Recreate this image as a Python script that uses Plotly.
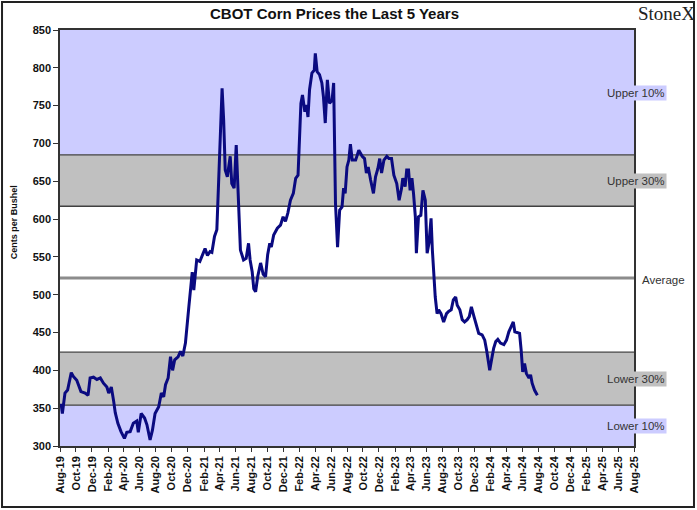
import plotly.graph_objects as go

# ---- data ----
dates = [
 "2019-08-05","2019-08-10","2019-08-20","2019-08-30","2019-09-13","2019-09-21","2019-10-04","2019-10-20",
 "2019-11-05","2019-11-16","2019-11-24","2019-12-07","2019-12-20","2020-01-02","2020-01-14","2020-01-27",
 "2020-02-03","2020-02-13","2020-02-22","2020-02-28","2020-03-09","2020-03-21","2020-04-03","2020-04-12",
 "2020-04-25","2020-05-07","2020-05-20","2020-05-26","2020-06-06","2020-06-19","2020-06-28","2020-07-10",
 "2020-07-19","2020-07-29","2020-08-12","2020-08-22","2020-08-31","2020-09-07","2020-09-17","2020-09-26",
 "2020-10-04","2020-10-12","2020-10-25","2020-11-03","2020-11-12","2020-11-22","2020-12-05","2020-12-18",
 "2020-12-24","2021-01-04","2021-01-16","2021-01-25","2021-02-05","2021-02-14","2021-02-24","2021-03-03",
 "2021-03-13","2021-03-22","2021-04-01","2021-04-11","2021-04-17","2021-04-23","2021-05-01","2021-05-12",
 "2021-05-18","2021-05-27","2021-06-04","2021-06-13","2021-06-20","2021-07-02","2021-07-12","2021-07-21",
 "2021-07-27","2021-08-04","2021-08-10","2021-08-17","2021-08-25","2021-09-05","2021-09-15","2021-09-24",
 "2021-10-02","2021-10-10","2021-10-16","2021-10-25","2021-11-08","2021-11-20","2021-11-30","2021-12-09",
 "2021-12-18","2021-12-28","2022-01-08","2022-01-17","2022-01-26","2022-02-06","2022-02-12","2022-02-21",
 "2022-02-27","2022-03-05","2022-03-11","2022-03-20","2022-03-29","2022-04-02","2022-04-09","2022-04-18",
 "2022-04-27","2022-05-03","2022-05-10","2022-05-18","2022-05-26","2022-06-05","2022-06-11","2022-06-18",
 "2022-06-26","2022-07-04","2022-07-13","2022-07-19","2022-07-25","2022-08-01","2022-08-08","2022-08-14",
 "2022-08-21","2022-09-03","2022-09-15","2022-09-28","2022-10-07","2022-10-14","2022-10-21","2022-10-30",
 "2022-11-10","2022-11-18","2022-11-27","2022-12-04","2022-12-11","2022-12-20","2022-12-31","2023-01-08",
 "2023-01-18","2023-01-27","2023-02-07","2023-02-16","2023-02-25","2023-03-02","2023-03-11","2023-03-17",
 "2023-03-24","2023-03-30","2023-04-06","2023-04-12","2023-04-19","2023-04-23","2023-05-01","2023-05-10",
 "2023-05-18","2023-05-27","2023-06-03","2023-06-10","2023-06-18","2023-06-23","2023-06-28","2023-07-04",
 "2023-07-11","2023-07-17","2023-07-26","2023-08-05","2023-08-16","2023-08-24","2023-09-03","2023-09-11",
 "2023-09-20","2023-09-26","2023-10-06","2023-10-15","2023-10-24","2023-11-03","2023-11-11","2023-11-19",
 "2023-11-29","2023-12-09","2023-12-17","2023-12-30","2024-01-09","2024-01-16","2024-01-21","2024-01-28",
 "2024-02-04","2024-02-12","2024-02-20","2024-02-28","2024-03-09","2024-03-22","2024-04-01","2024-04-10",
 "2024-04-19","2024-04-27","2024-05-03","2024-05-12","2024-05-21","2024-05-27","2024-06-02","2024-06-09",
 "2024-06-16","2024-06-26","2024-07-02","2024-07-08","2024-07-17","2024-07-28",
]
prices = [
 356,343,370,374,397,392,387,372,
 370,367,390,391,388,390,383,378,
 370,378,359,344,330,319,310,318,
 319,330,333,318,343,337,328,308,
 321,343,352,370,365,381,390,418,
 400,414,418,425,419,436,484,530,
 506,546,544,552,561,552,557,556,
 577,586,691,773,731,665,656,683,
 647,641,698,612,559,546,548,568,
 546,530,508,504,524,542,527,524,
 553,568,563,579,588,592,603,597,
 608,625,634,654,658,753,764,742,
 751,735,771,793,797,819,795,791,
 780,762,727,784,753,757,780,621,
 563,612,616,641,634,669,678,699,
 678,678,691,683,680,661,669,652,
 634,656,667,680,661,678,683,680,
 680,658,647,625,640,654,643,665,
 665,638,654,634,603,555,603,605,
 638,625,555,568,601,559,524,497,
 475,480,475,464,475,478,480,493,
 497,486,480,467,464,467,471,484,
 471,460,449,447,440,427,414,400,
 414,429,438,441,436,434,440,451,
 458,464,451,450,449,427,398,409,
 396,390,394,383,374,367,
]

band_edges = [300, 354, 424, 617, 685, 850]
average_level = 522
band_labels = ["Lower 10%", "Lower 30%", "Upper 30%", "Upper 10%"]
band_label_levels = [327, 389, 651, 767]
y_ticks = [300, 350, 400, 450, 500, 550, 600, 650, 700, 750, 800, 850]

BLUE = "#CCCCFF"
GRAY = "#C0C0C0"
EDGE = "#404040"
FONT = "Liberation Sans, Arial"

fig = go.Figure()
fig.add_trace(go.Scatter(x=dates, y=prices, mode="lines",
                         line=dict(color="#0A0A80", width=3), showlegend=False,
                         hoverinfo="skip"))

band_fills = [BLUE, GRAY, "white", GRAY, BLUE]
shapes = []
for i, fc in enumerate(band_fills):
    shapes.append(dict(type="rect", xref="paper", yref="y", x0=0, x1=1,
                       y0=band_edges[i], y1=band_edges[i + 1],
                       fillcolor=fc, line=dict(width=0), layer="below"))
for lv in band_edges[1:-1]:
    shapes.append(dict(type="line", xref="paper", yref="y", x0=0, x1=1,
                       y0=lv, y1=lv, line=dict(color=EDGE, width=1.3), layer="below"))
shapes.append(dict(type="line", xref="paper", yref="y", x0=0, x1=1,
                   y0=average_level, y1=average_level,
                   line=dict(color="#8C8C8C", width=3), layer="below"))
# outer frame
shapes.append(dict(type="rect", xref="paper", yref="paper", x0=-0.101, x1=1.1045,
                   y0=-0.1466, y1=1.0673, line=dict(color="#222222", width=2),
                   fillcolor="rgba(0,0,0,0)", layer="above"))

annotations = []
label_bg = {"Lower 10%": BLUE, "Lower 30%": GRAY, "Upper 30%": GRAY, "Upper 10%": BLUE}
for txt, lv in zip(band_labels, band_label_levels):
    annotations.append(dict(text=txt, xref="paper", yref="y", x=1.0035, y=lv,
                            xanchor="center", yanchor="middle",
                            showarrow=False, bgcolor=label_bg[txt], borderpad=1,
                            font=dict(family=FONT, size=11.5, color="#333333")))
annotations.append(dict(text="Average", xref="paper", yref="y", x=1.052, y=519,
                        xanchor="center", yanchor="middle", showarrow=False,
                        font=dict(family=FONT, size=11.5, color="#333333")))
annotations.append(dict(text="<b>CBOT Corn Prices the Last 5 Years</b>", xref="paper", yref="paper",
                        x=0.479, y=1.04, xanchor="center", yanchor="middle", showarrow=False,
                        font=dict(family=FONT, size=15, color="#111111")))
annotations.append(dict(text="StoneX", xref="paper", yref="paper",
                        x=1.1095, y=1.04, xanchor="right", yanchor="middle", showarrow=False,
                        font=dict(family="Liberation Serif, Times New Roman", size=19, color="#222222")))
annotations.append(dict(text="<b>Cents per Bushel</b>", xref="paper", yref="paper",
                        x=-0.080, y=0.538, xanchor="center", yanchor="middle",
                        textangle=-90, showarrow=False,
                        font=dict(family=FONT, size=9, color="#111111")))

fig.update_layout(
    width=697, height=510,
    margin=dict(l=60, r=63, t=30, b=64),
    paper_bgcolor="white", plot_bgcolor="white",
    shapes=shapes, annotations=annotations,
    font=dict(family=FONT, color="#111111"),
    xaxis=dict(type="date", range=["2019-08-01", "2025-08-01"],
               tick0="2019-08-01", dtick="M2", tickformat="%b-%y", tickangle=-90,
               ticks="outside", ticklen=4, tickcolor="#333333",
               tickfont=dict(size=11, family=FONT, weight="bold"),
               showgrid=False, zeroline=False, showline=True, linecolor="#333333",
               linewidth=1.5, mirror=True),
    yaxis=dict(range=[300, 850], tickvals=y_ticks,
               ticks="outside", ticklen=5, tickcolor="#333333",
               tickfont=dict(size=11, family=FONT, weight="bold"),
               showgrid=False, zeroline=False, showline=True, linecolor="#333333",
               linewidth=1.5, mirror=True),
)

fig.write_html("out.html", config={"displayModeBar": False},
               post_script="document.body.style.margin='0';document.body.style.padding='0';")
